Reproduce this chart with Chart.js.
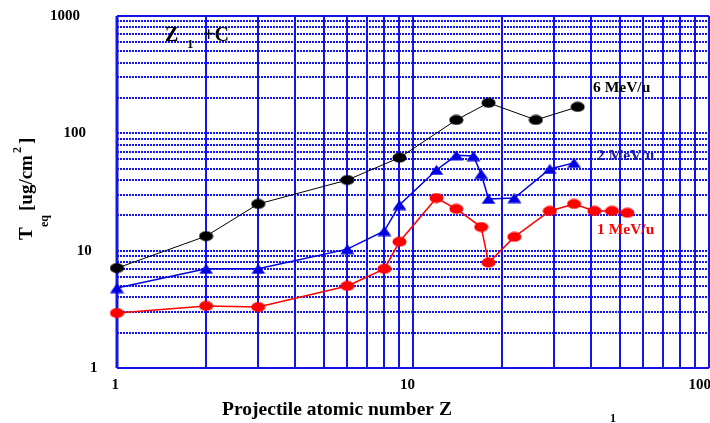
<!DOCTYPE html>
<html>
<head>
<meta charset="utf-8">
<script src="https://cdn.jsdelivr.net/npm/chart.js@4/dist/chart.umd.min.js"></script>
<style>
  body { margin: 0; background: #fff; }
  canvas { display: block; }
</style>
</head>
<body>
<canvas id="teq" width="710" height="423"></canvas>
<script>
// Equilibrium thickness vs projectile Z, carbon target
const z6 = [1, 2, 3, 6, 9, 14, 18, 26, 36];
const t6 = [7.1, 13.3, 25, 40, 62, 130, 182, 130, 168];

const z2 = [1, 2, 3, 6, 8, 9, 12, 14, 16, 17, 18, 22, 29, 35];
const t2 = [4.8, 7.0, 7.0, 10.3, 14.7, 24.5, 48.7, 65, 64, 45, 27.6, 28.1, 49.7, 56];

const z1 = [1, 2, 3, 6, 8, 9, 12, 14, 17, 18, 22, 29, 35, 41, 47, 53];
const t1 = [2.94, 3.38, 3.31, 5.0, 7.0, 11.9, 28.1, 22.7, 15.9, 7.9, 13.1, 21.8, 25, 21.8, 21.8, 21];

const xTicks = [1, 10, 100];
const yTicks = [1, 10, 100, 1000];

const GRID = '#1414e6';
const SERIF = '"Liberation Serif", "Times New Roman", serif';

// flattened ellipse / triangle markers
function ellipseMarker(color) {
  const c = document.createElement('canvas');
  c.width = 15; c.height = 11;
  const g = c.getContext('2d');
  g.fillStyle = color;
  g.beginPath();
  g.ellipse(7.5, 5.5, 7, 5, 0, 0, Math.PI * 2);
  g.fill();
  return c;
}
function triangleMarker(color) {
  const c = document.createElement('canvas');
  c.width = 15; c.height = 11;
  const g = c.getContext('2d');
  g.fillStyle = color;
  g.beginPath();
  g.moveTo(7.5, 0.5);
  g.lineTo(14.5, 10.5);
  g.lineTo(0.5, 10.5);
  g.closePath();
  g.fill();
  return c;
}

const pts = (xs, ys) => xs.map((x, i) => ({ x: x, y: ys[i] }));

const gridPlugin = {
  id: 'logGrid',
  beforeDatasetsDraw(chart) {
    const { ctx, chartArea: a, scales: { x, y } } = chart;
    ctx.save();
    ctx.strokeStyle = GRID;

    // horizontal dotted lines, every 1..9 per decade
    ctx.lineWidth = 2;
    ctx.setLineDash([2, 1]);
    for (let d = 1; d <= 100; d *= 10) {
      for (let m = 1; m <= 9; m++) {
        const py = Math.round(y.getPixelForValue(m * d));
        ctx.beginPath();
        ctx.moveTo(a.left, py);
        ctx.lineTo(a.right, py);
        ctx.stroke();
      }
    }
    ctx.setLineDash([]);
    // top and bottom edges
    [1000, 1].forEach(v => {
      const py = Math.round(y.getPixelForValue(v));
      ctx.beginPath();
      ctx.moveTo(a.left, py);
      ctx.lineTo(a.right, py);
      ctx.stroke();
    });

    // vertical solid lines
    const xv = [];
    for (let d = 1; d <= 10; d *= 10) for (let m = 1; m <= 9; m++) xv.push(m * d);
    xv.push(100);
    xv.forEach(v => {
      const px = Math.round(x.getPixelForValue(v));
      ctx.lineWidth = v === 1 ? 3 : 2;
      ctx.beginPath();
      ctx.moveTo(px, a.top);
      ctx.lineTo(px, a.bottom);
      ctx.stroke();
    });
    ctx.restore();
  },
  afterDraw(chart) {
    const { ctx, scales: { x, y } } = chart;
    ctx.save();
    ctx.fillStyle = '#000';
    ctx.textBaseline = 'middle';

    // tick labels
    ctx.font = 'bold 15px ' + SERIF;
    ctx.textAlign = 'left';
    yTicks.forEach(v => {
      ctx.fillText(String(v), 90 - 13.3 * Math.log10(v), y.getPixelForValue(v));
    });
    ctx.textAlign = 'right';
    xTicks.forEach(v => {
      ctx.fillText(String(v), x.getPixelForValue(v) + 2, 385);
    });

    // x title
    ctx.textAlign = 'center';
    ctx.font = 'bold 19.5px ' + SERIF;
    ctx.fillText('Projectile atomic number Z', 337, 410);
    ctx.font = 'bold 12px ' + SERIF;
    ctx.fillText('1', 613, 419);

    // y title, rotated
    ctx.save();
    ctx.translate(27, 240);
    ctx.rotate(-Math.PI / 2);
    ctx.textAlign = 'left';
    ctx.font = 'bold 19px ' + SERIF;
    ctx.fillText('T', 0, 0);
    ctx.font = 'bold 12px ' + SERIF;
    ctx.fillText('eq', 13, 18);
    ctx.font = 'bold 19px ' + SERIF;
    ctx.fillText('[ug/cm', 29, 0);
    ctx.font = 'bold 12px ' + SERIF;
    ctx.fillText('2', 87, -9);
    ctx.font = 'bold 19px ' + SERIF;
    ctx.fillText(']', 96, 0);
    ctx.restore();

    // system label
    ctx.textAlign = 'left';
    ctx.font = 'bold 20px ' + SERIF;
    ctx.fillText('Z', 165, 36);
    ctx.font = 'bold 13px ' + SERIF;
    ctx.fillText('1', 187, 45);
    ctx.font = 'bold 20px ' + SERIF;
    ctx.fillText('+C', 203, 36);

    // series labels
    ctx.font = 'bold 15.5px ' + SERIF;
    ctx.fillStyle = '#000';
    ctx.fillText('6 MeV/u', 593, 88);
    ctx.fillStyle = '#1a1aa8';
    ctx.fillText('2 MeV/u', 597, 156);
    ctx.fillStyle = '#ff0000';
    ctx.fillText('1 MeV/u', 597, 230);
    ctx.restore();
  }
};

new Chart(document.getElementById('teq'), {
  type: 'scatter',
  data: {
    datasets: [
      {
        label: '6 MeV/u',
        data: pts(z6, t6),
        showLine: true,
        clip: false,
        borderColor: '#000',
        borderWidth: 1,
        pointStyle: ellipseMarker('#000')
      },
      {
        label: '2 MeV/u',
        data: pts(z2, t2),
        showLine: true,
        clip: false,
        borderColor: '#0000e0',
        borderWidth: 1.5,
        pointStyle: triangleMarker('#0000e0')
      },
      {
        label: '1 MeV/u',
        data: pts(z1, t1),
        showLine: true,
        clip: false,
        borderColor: '#ff0000',
        borderWidth: 1.5,
        pointStyle: ellipseMarker('#ff0000')
      }
    ]
  },
  options: {
    responsive: false,
    animation: false,
    devicePixelRatio: 1,
    layout: { autoPadding: false, padding: { left: 117, right: 1, top: 16, bottom: 55 } },
    plugins: { legend: { display: false }, tooltip: { enabled: false } },
    scales: {
      x: { type: 'logarithmic', min: 1, max: 100, display: false },
      y: { type: 'logarithmic', min: 1, max: 1000, display: false }
    }
  },
  plugins: [gridPlugin]
});
</script>
</body>
</html>
